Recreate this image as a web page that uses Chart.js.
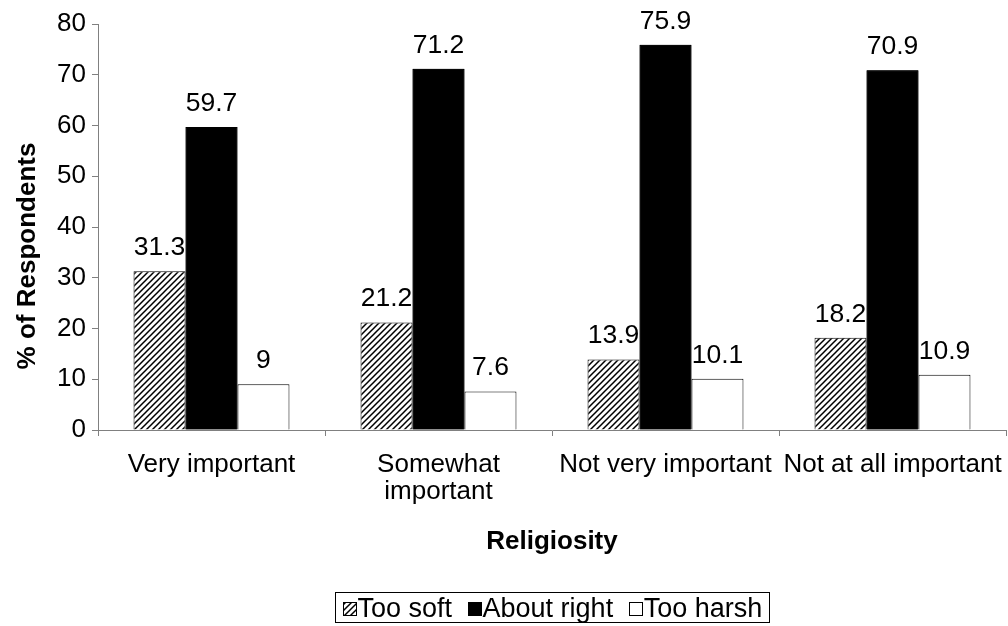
<!DOCTYPE html>
<html>
<head>
<meta charset="utf-8">
<script src="https://cdn.jsdelivr.net/npm/chart.js@4/dist/chart.umd.min.js"></script>
<style>
  html, body { margin: 0; padding: 0; background: #fff; }
  #wrap { width: 1008px; height: 626px; }
</style>
</head>
<body>
<div id="wrap"><canvas id="chart" width="1008" height="626"></canvas></div>
<script>
const categories = ['Very important', ['Somewhat', 'important'], 'Not very important', 'Not at all important'];
const tooSoft = [31.3, 21.2, 13.9, 18.2];
const aboutRight = [59.7, 71.2, 75.9, 70.9];
const tooHarsh = [9, 7.6, 10.1, 10.9];
const yTicks = [0, 10, 20, 30, 40, 50, 60, 70, 80];
const yTitle = '% of Respondents';

const font = 'Liberation Sans, Arial, sans-serif';

function makeHatch() {
    const c = document.createElement('canvas');
    c.width = 6;
    c.height = 6;
    const g = c.getContext('2d');
    g.fillStyle = '#fff';
    g.fillRect(0, 0, 6, 6);
    g.strokeStyle = '#000';
    g.lineWidth = 1.5;
    g.beginPath();
    g.moveTo(-1, 7); g.lineTo(7, -1);
    g.moveTo(-1, 1); g.lineTo(1, -1);
    g.moveTo(5, 7); g.lineTo(7, 5);
    g.stroke();
    return g.createPattern(c, 'repeat');
}
const hatch = makeHatch();

// value labels above each bar; the black bars are painted again over the
// first series' labels, like in the original
const valueLabels = {
    id: 'valueLabels',
    afterDatasetsDraw(chart) {
        const ctx = chart.ctx;
        const drawLabels = i => {
            const ds = chart.data.datasets[i];
            chart.getDatasetMeta(i).data.forEach((bar, j) => {
                ctx.fillText(String(ds.data[j]), bar.x, bar.y - 16);
            });
        };
        ctx.save();
        ctx.font = '26.5px ' + font;
        ctx.fillStyle = '#000';
        ctx.textAlign = 'center';
        ctx.textBaseline = 'alphabetic';
        drawLabels(0);
        chart.getDatasetMeta(1).data.forEach(bar => bar.draw(ctx));
        ctx.font = '26.5px ' + font;
        ctx.fillStyle = '#000';
        ctx.textAlign = 'center';
        drawLabels(1);
        drawLabels(2);
        ctx.restore();
    }
};

// y title, centred a little below the middle of the plot as Excel put it
const yTitlePlugin = {
    id: 'yTitlePlugin',
    afterDraw(chart) {
        const ctx = chart.ctx;
        ctx.save();
        ctx.translate(28, 256);
        ctx.rotate(-Math.PI / 2);
        ctx.font = 'bold 26px ' + font;
        ctx.fillStyle = '#000';
        ctx.textAlign = 'center';
        ctx.textBaseline = 'middle';
        ctx.fillText(yTitle, 0, 0);
        ctx.restore();
    }
};

// framed legend under the axis title, Excel style (box right next to the text)
const boxLegend = {
    id: 'boxLegend',
    afterDraw(chart) {
        const ctx = chart.ctx;
        const size = 14, gap = 1, itemGap = 15.5, pad = 7;
        ctx.save();
        ctx.font = '27px ' + font;
        const items = chart.data.datasets.map(ds => ({ ds, w: ctx.measureText(ds.label).width }));
        let total = pad * 2;
        items.forEach((it, i) => { total += size + gap + it.w + (i ? itemGap : 0); });
        const mid = (chart.chartArea.left + chart.chartArea.right) / 2;
        const left = Math.round(mid - total / 2) + 0.5;
        const top = 592.5, h = 30;
        ctx.strokeStyle = '#000';
        ctx.lineWidth = 1;
        ctx.strokeRect(left, top, Math.round(total), h);
        const cy = top + h / 2 + 1;
        let x = left + pad;
        ctx.textBaseline = 'middle';
        ctx.textAlign = 'left';
        items.forEach(it => {
            ctx.fillStyle = it.ds.backgroundColor;
            ctx.fillRect(Math.round(x), Math.round(cy - size / 2), size, size);
            ctx.strokeStyle = '#000';
            ctx.strokeRect(Math.round(x) + 0.5, Math.round(cy - size / 2) + 0.5, size - 1, size - 1);
            x += size + gap;
            ctx.fillStyle = '#000';
            ctx.fillText(it.ds.label, x, cy + 1);
            x += it.w + itemGap;
        });
        ctx.restore();
    }
};

new Chart(document.getElementById('chart'), {
    type: 'bar',
    data: {
        labels: categories,
        datasets: [
            { label: 'Too soft', data: tooSoft, backgroundColor: hatch, borderColor: '#000', borderWidth: 1 },
            { label: 'About right', data: aboutRight, backgroundColor: '#000', borderColor: '#000', borderWidth: 1 },
            { label: 'Too harsh', data: tooHarsh, backgroundColor: '#fff', borderColor: '#000', borderWidth: 1 }
        ]
    },
    options: {
        responsive: false,
        animation: false,
        datasets: { bar: { categoryPercentage: 0.687, barPercentage: 1 } },
        layout: { padding: { top: 24, right: 2, bottom: 56, left: 0 } },
        plugins: {
            tooltip: { enabled: false },
            legend: { display: false }
        },
        scales: {
            x: {
                offset: true,
                grid: { display: true, drawOnChartArea: false, offset: true, color: '#808080', tickLength: 6 },
                border: { color: '#808080' },
                ticks: { color: '#000', font: { family: font, size: 26, lineHeight: 1.05 }, padding: 15, maxRotation: 0, autoSkip: false },
                title: { display: true, text: 'Religiosity', color: '#000', font: { family: font, size: 26, weight: 'bold' }, padding: { top: 0, bottom: 13 } },
                afterFit(scale) {
                    scale.height = 140;
                    scale.paddingLeft = 0;
                    scale.paddingRight = 0;
                }
            },
            y: {
                min: 0,
                max: 80,
                afterBuildTicks(scale) { scale.ticks = yTicks.map(v => ({ value: v })); },
                grid: { display: true, drawOnChartArea: false, color: '#808080', tickLength: 6 },
                border: { color: '#808080' },
                ticks: { color: '#000', font: { family: font, size: 26 }, padding: 6 },
                afterFit(scale) { scale.width = 98; }
            }
        }
    },
    plugins: [valueLabels, yTitlePlugin, boxLegend]
});
</script>
</body>
</html>
